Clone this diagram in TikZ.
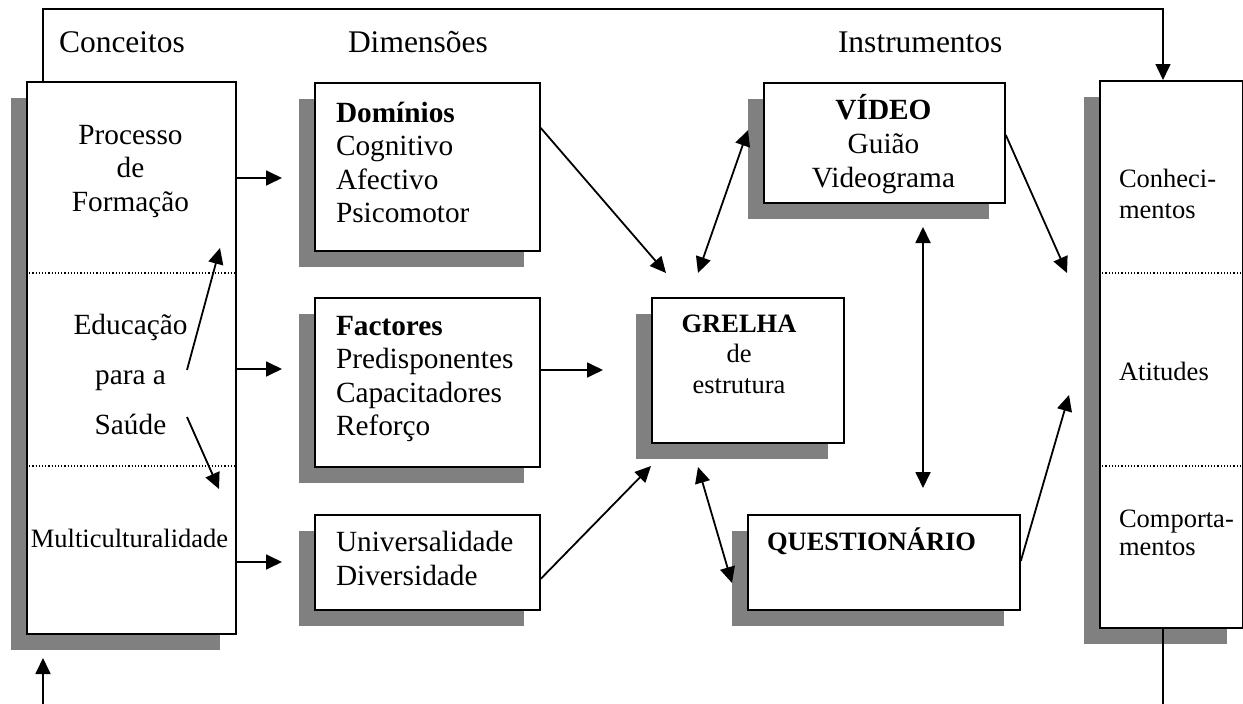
\documentclass[tikz,border=0pt]{standalone}
\usepackage{fontspec}
\setmainfont{Liberation Serif}
\usetikzlibrary{arrows.meta,shadows,calc}
\definecolor{shgray}{RGB}{128,128,128}
\newcommand{\bigf}{\fontsize{29.3}{33.6}\selectfont}
\newcommand{\headf}{\fontsize{31.5}{36}\selectfont}
\newcommand{\smallf}{\fontsize{26.5}{30.5}\selectfont}
\newcommand{\ml}[2]{\begin{tabular}[t]{@{}#1@{}}#2\end{tabular}}
\begin{document}
\begin{tikzpicture}[x=1pt,y=-1pt,
  box/.style={draw, line width=1.8pt, fill=white, inner sep=0pt, anchor=north west,
    drop shadow={shadow xshift=-16pt, shadow yshift=-16pt, fill=shgray, opacity=1}},
  txt/.style={inner sep=0pt, outer sep=0pt},
  tip/.tip={Triangle[length=16pt,width=15pt]},
  arr/.style={line width=1.8pt, -tip},
  darr/.style={line width=1.8pt, tip-tip},
  dots/.style={dotted, line width=1.2pt},
  link/.style={line width=1.7pt}]
\useasboundingbox (0,0) rectangle (1243,704);

% boxes
\node[box, minimum width=209pt, minimum height=552pt] (conc) at (26,81) {};
\node[box, minimum width=225pt, minimum height=168pt] (dom) at (314,82) {};
\node[box, minimum width=225pt, minimum height=169pt] (fac) at (314,297) {};
\node[box, minimum width=225pt, minimum height=95pt] (uni) at (314,514) {};
\node[box, minimum width=192pt, minimum height=145pt] (grel) at (651,297) {};
\node[box, minimum width=241pt, minimum height=120pt] (vid) at (763,82) {};
\node[box, minimum width=272pt, minimum height=95pt] (que) at (747,514) {};
\node[box, minimum width=143pt, minimum height=547pt] (res) at (1099,80) {};

% dotted separators
\draw[dots] (conc.west |- 0,273) -- (conc.east |- 0,273);
\draw[dots] (conc.west |- 0,466) -- (conc.east |- 0,466);
\draw[dots] (res.west |- 0,273) -- (res.east |- 0,273);
\draw[dots] (res.west |- 0,466) -- (res.east |- 0,466);

% headers
\node[txt, anchor=base west, font=\headf] (hcon) at (59,52) {Conceitos};
\node[txt, anchor=base west, font=\headf] (hdim) at (348,52) {Dimensões};
\node[txt, anchor=base west, font=\headf] (hins) at (838,52) {Instrumentos};

% left box texts
\node[txt, anchor=base] (tpf) at (130.5,144) {\bigf\ml{c}{Processo\\de\\Formação}};
\node[txt, anchor=base] (teps) at (130.5,334) {\fontsize{29.3}{50}\selectfont\ml{c}{Educação\\para a\\Saúde}};
\node[txt, anchor=base] (tmul) at (129.5,547) {\smallf Multiculturalidade};

% dimension texts
\node[txt, anchor=base west] (tdom) at (336,122) {\bigf\ml{l}{\textbf{Domínios}\\Cognitivo\\Afectivo\\Psicomotor}};
\node[txt, anchor=base west] (tfac) at (336,335) {\bigf\ml{l}{\textbf{Factores}\\Predisponentes\\Capacitadores\\Reforço}};
\node[txt, anchor=base west] (tuni) at (336,551) {\fontsize{29.3}{34.5}\selectfont\ml{l}{Universalidade\\Diversidade}};

% instruments
\node[txt, anchor=base] (tgre) at (739,332) {\smallf\ml{c}{\textbf{GRELHA}\\de\\estrutura}};
\node[txt, anchor=base] (tvid) at (883.5,119) {\fontsize{29.3}{34}\selectfont\ml{c}{\textbf{VÍDEO}\\Guião\\Videograma}};
\node[txt, anchor=base west] (tque) at (767,550) {\smallf\textbf{QUESTIONÁRIO}};

% results
\node[txt, anchor=base west] (tcon) at (1119,187) {\fontsize{26.5}{31}\selectfont\ml{l}{Conheci-\\mentos}};
\node[txt, anchor=base west] (tati) at (1119,380) {\smallf Atitudes};
\node[txt, anchor=base west] (tcom) at (1119,527) {\fontsize{26.5}{28.5}\selectfont\ml{l}{Comporta-\\mentos}};

% free ends
\coordinate (tl) at (43,9);
\coordinate (tr) at (1163,9);
\coordinate (bl) at (43,704);
\coordinate (bltip) at (43,658);
\coordinate (br) at (1163,704);
\coordinate (a1) at (282,178);
\coordinate (a2) at (282,369);
\coordinate (a3) at (282,562);
\coordinate (eu0) at (187,370);
\coordinate (eu1) at (220,248);
\coordinate (ed0) at (187,417);
\coordinate (ed1) at (219,489);
\coordinate (g1) at (666,273);
\coordinate (g2) at (603,370);
\coordinate (g3) at (651,466);
\coordinate (gv0) at (698,273);
\coordinate (gv1) at (748,130);
\coordinate (vq0) at (923,227);
\coordinate (vq1) at (923,488);
\coordinate (gq0) at (698,467);
\coordinate (gq1) at (732,583);
\coordinate (r1) at (1067,273);
\coordinate (r2) at (1069,395);

% connectors
\draw[arr, line width=1.5pt] (conc.north -| tl) -- (tl) -- (tr) -- (res.north -| tr);
\draw[arr] (bl) -- (bltip);
\draw[link, line width=1.5pt] (res.south -| br) -- (br);

\draw[arr] (conc.east |- a1) -- (a1);
\draw[arr] (conc.east |- a2) -- (a2);
\draw[arr] (conc.east |- a3) -- (a3);
\draw[arr] (eu0) -- (eu1);
\draw[arr] (ed0) -- (ed1);

\draw[arr] ($(dom.north east)+(0,46)$) -- (g1);
\draw[arr] (fac.east |- g2) -- (g2);
\draw[arr] ($(uni.south east)+(0,-32)$) -- (g3);

\draw[darr] (gv0) -- (gv1);
\draw[darr] (vq0) -- (vq1);
\draw[darr] (gq0) -- (gq1);

\draw[arr] ($(vid.north east)+(0,53)$) -- (r1);
\draw[arr] ($(que.north east)+(0,47)$) -- (r2);
\end{tikzpicture}
\end{document}
